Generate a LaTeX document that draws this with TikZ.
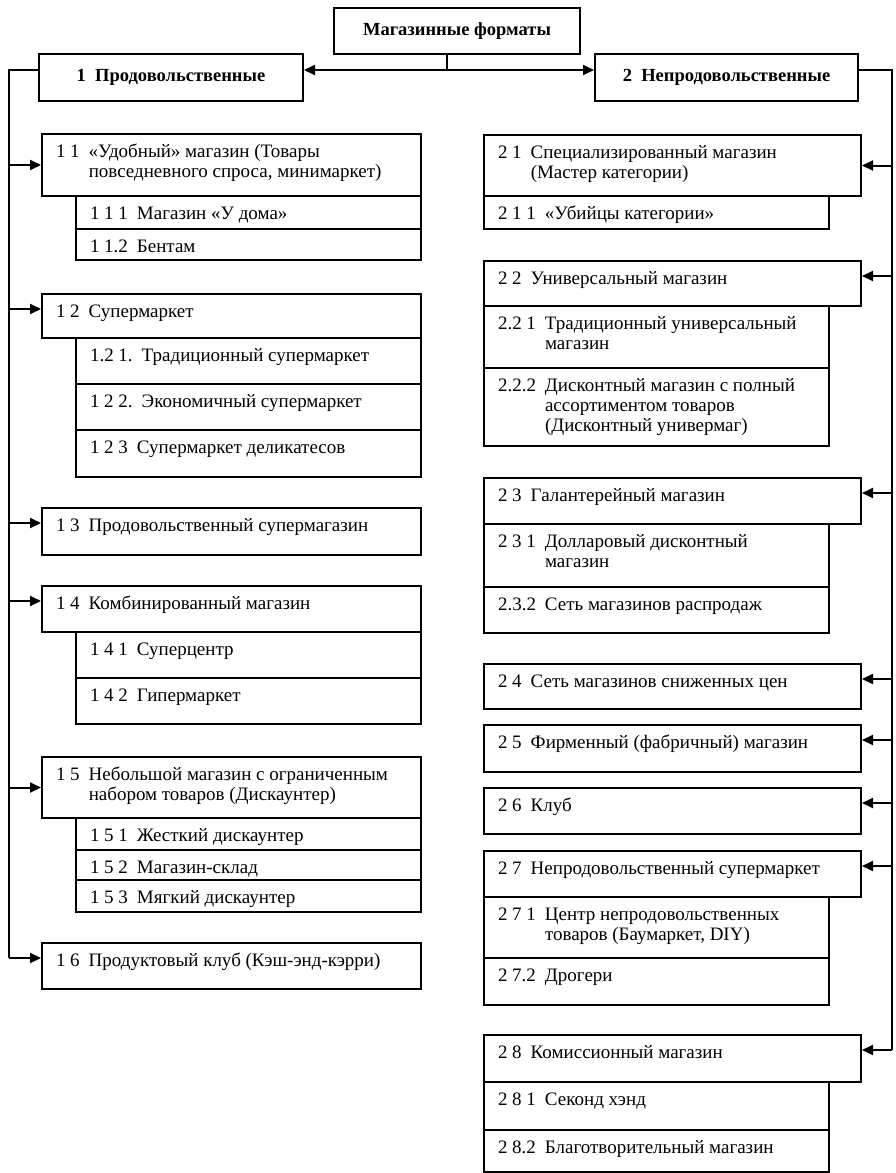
\documentclass[tikz,border=0pt]{standalone}
\usepackage{fontspec}
\setmainfont{Liberation Serif}
\usepackage{tikz}
\usetikzlibrary{arrows.meta}

\newcommand{\itemfont}{\fontsize{19}{20}\selectfont}
\newcommand{\headfont}{\fontsize{18.5}{20}\selectfont\bfseries}
% box text: width, height, number, text
\newcommand{\bx}[4]{\parbox[c][#2pt][t]{#1pt}{\vspace*{9pt}\hspace*{14pt}%
  \begin{tabular}[t]{@{}l@{\hspace{9pt}}l@{}}#3 & #4\end{tabular}}}

\begin{document}
\begin{tikzpicture}[x=1pt,y=-1pt]
\tikzset{
  fmt/.style={draw, line width=2pt, anchor=north west, inner sep=0pt, font=\itemfont},
  head/.style={draw, line width=2pt, anchor=north west, inner sep=0pt, font=\headfont},
  link/.style={line width=2pt},
  arr/.style={line width=2pt, -{Triangle[length=11pt,width=10pt]}}
}
\useasboundingbox (0,0) rectangle (896,1173);

% headers
\node[head, minimum width=246pt, minimum height=46pt] (top) at (333,7) {Магазинные форматы};
\node[head, minimum width=264pt, minimum height=47pt] (b1) at (38,53) {1\ \ Продовольственные};
\node[head, minimum width=263pt, minimum height=47pt] (b2) at (594,53) {2\ \ Непродовольственные};

% food
\node[fmt] (n11) at (41,133) {\bx{379}{62}{1 1}{«Удобный» магазин (Товары\\ & повседневного спроса, минимаркет)}};
\node[fmt] (n111) at (75,195) {\bx{345}{33}{1 1 1}{Магазин «У дома»}};
\node[fmt] (n112) at (75,228) {\bx{345}{31}{1 1.2}{Бентам}};
\node[fmt] (n12) at (41,293) {\bx{379}{44}{1 2}{Супермаркет}};
\node[fmt] (n121) at (75,337) {\bx{345}{46}{1.2 1.}{Традиционный супермаркет}};
\node[fmt] (n122) at (75,383) {\bx{345}{46}{1 2 2.}{Экономичный супермаркет}};
\node[fmt] (n123) at (75,429) {\bx{345}{47}{1 2 3}{Супермаркет деликатесов}};
\node[fmt] (n13) at (41,507) {\bx{379}{47}{1 3}{Продовольственный супермагазин}};
\node[fmt] (n14) at (41,585) {\bx{379}{46}{1 4}{Комбинированный магазин}};
\node[fmt] (n141) at (75,631) {\bx{345}{46}{1 4 1}{Суперцентр}};
\node[fmt] (n142) at (75,677) {\bx{345}{46}{1 4 2}{Гипермаркет}};
\node[fmt] (n15) at (41,756) {\bx{379}{61}{1 5}{Небольшой магазин с ограниченным\\ & набором товаров (Дискаунтер)}};
\node[fmt] (n151) at (75,817) {\bx{345}{32}{1 5 1}{Жесткий дискаунтер}};
\node[fmt] (n152) at (75,849) {\bx{345}{30}{1 5 2}{Магазин-склад}};
\node[fmt] (n153) at (75,879) {\bx{345}{32}{1 5 3}{Мягкий дискаунтер}};
\node[fmt] (n16) at (41,942) {\bx{379}{46}{1 6}{Продуктовый клуб (Кэш-энд-кэрри)}};

% non-food
\node[fmt] (n21) at (483,134) {\bx{377}{61}{2 1}{Специализированный магазин\\ & (Мастер категории)}};
\node[fmt] (n211) at (483,195) {\bx{345}{33}{2 1 1}{«Убийцы категории»}};
\node[fmt] (n22) at (483,260) {\bx{377}{45}{2 2}{Универсальный магазин}};
\node[fmt] (n221) at (483,305) {\bx{345}{62}{2.2 1}{Традиционный универсальный\\ & магазин}};
\node[fmt] (n222) at (483,367) {\bx{345}{78}{2.2.2}{Дисконтный магазин с полный\\ & ассортиментом товаров\\ & (Дисконтный универмаг)}};
\node[fmt] (n23) at (483,477) {\bx{377}{46}{2 3}{Галантерейный магазин}};
\node[fmt] (n231) at (483,523) {\bx{345}{63}{2 3 1}{Долларовый дисконтный\\ & магазин}};
\node[fmt] (n232) at (483,586) {\bx{345}{46}{2.3.2}{Сеть магазинов распродаж}};
\node[fmt] (n24) at (483,663) {\bx{377}{45}{2 4}{Сеть магазинов сниженных цен}};
\node[fmt] (n25) at (483,724) {\bx{377}{47}{2 5}{Фирменный (фабричный) магазин}};
\node[fmt] (n26) at (483,787) {\bx{377}{46}{2 6}{Клуб}};
\node[fmt] (n27) at (483,850) {\bx{377}{46}{2 7}{Непродовольственный супермаркет}};
\node[fmt] (n271) at (483,896) {\bx{345}{61}{2 7 1}{Центр непродовольственных\\ & товаров (Баумаркет, DIY)}};
\node[fmt] (n272) at (483,957) {\bx{345}{47}{2 7.2}{Дрогери}};
\node[fmt] (n28) at (483,1034) {\bx{377}{47}{2 8}{Комиссионный магазин}};
\node[fmt] (n281) at (483,1081) {\bx{345}{48}{2 8 1}{Секонд хэнд}};
\node[fmt] (n282) at (483,1129) {\bx{345}{42}{2 8.2}{Благотворительный магазин}};

% entry points
\foreach \n in {n12,n13,n14,n16,n22,n23,n24,n25,n26,n27,n28}
  \coordinate (\n-in) at ([yshift=-16pt]\n.north);
\foreach \n in {n11,n15,n21}
  \coordinate (\n-in) at (\n.center);

\coordinate (split) at (447,70);
\coordinate (lb) at (9,70);
\coordinate (rb) at (892,70);

\draw[link] (split |- top.south) -- (split);
\draw[arr] (split) -- (split -| b1.east);
\draw[arr] (split) -- (split -| b2.west);

\draw[link] (b1.west |- split) -| (lb |- n16-in);
\foreach \n in {n11,n12,n13,n14,n15,n16}
  \draw[arr] (lb |- \n-in) -- (\n-in -| \n.west);

\draw[link] (b2.east |- split) -| (rb |- n28-in);
\foreach \n in {n21,n22,n23,n24,n25,n26,n27,n28}
  \draw[arr] (rb |- \n-in) -- (\n-in -| \n.east);
\end{tikzpicture}
\end{document}
